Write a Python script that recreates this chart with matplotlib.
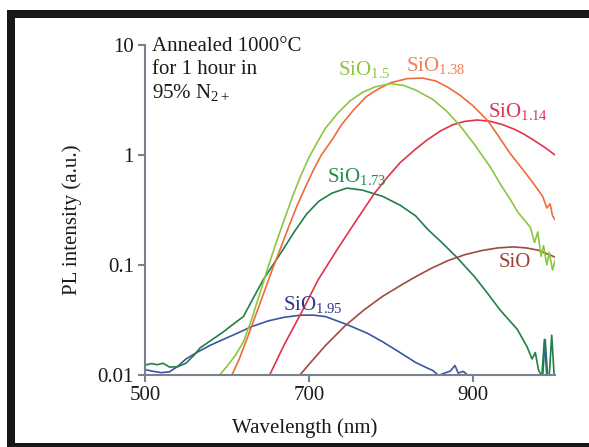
"""PL spectra of SiOx films annealed at 1000 C (log scale)."""
import matplotlib
matplotlib.use('Agg')
import matplotlib.pyplot as plt
from matplotlib.patches import Rectangle

plt.rcParams['font.family'] = ['Liberation Serif', 'DejaVu Serif']
plt.rcParams['mathtext.fontset'] = 'custom'
plt.rcParams['mathtext.rm'] = 'Liberation Serif'

W, H = 589, 447

# SiO1.95 (blue)
wl_195 = [500, 510, 520, 530, 540, 550, 565, 580, 595, 610, 630, 650, 670, 690, 705, 720,
          745, 771, 790, 811, 830, 845, 851, 858, 865, 872, 878, 882, 888, 895,
          985, 988, 991, 995]
pl_195 = [0.0112, 0.0108, 0.0105, 0.0107, 0.012, 0.014, 0.0163, 0.0187, 0.021, 0.0235,
          0.0275, 0.031, 0.0335, 0.035, 0.035, 0.034, 0.029, 0.024, 0.020, 0.016, 0.013,
          0.0115, 0.011, 0.0099, 0.0104, 0.0108, 0.0122, 0.0104, 0.0108, 0.0098,
          0.0098, 0.021, 0.0098, 0.0098]
# SiO1.73 (dark green)
wl_173 = [500, 508, 515, 522, 530, 540, 550, 560, 567, 580, 595, 605, 620, 632, 644, 656,
          668, 682, 697, 712, 728, 746, 765, 790, 811, 830, 845, 862, 880, 902, 918, 933,
          954, 966, 972, 976, 980, 984, 987, 990, 993, 996, 999]
pl_173 = [0.0123, 0.0127, 0.0124, 0.0128, 0.0118, 0.0119, 0.0128, 0.0152, 0.0176, 0.0205,
          0.0245, 0.028, 0.034, 0.05, 0.073, 0.1, 0.137, 0.2, 0.29, 0.38, 0.45, 0.5, 0.48,
          0.42, 0.35, 0.28, 0.21, 0.16, 0.118, 0.078, 0.055, 0.039, 0.026, 0.018, 0.014,
          0.016, 0.011, 0.0098, 0.021, 0.0098, 0.0098, 0.023, 0.0098]
# SiO1.5 (light green)
wl_15 = [591, 600, 610, 620, 630, 640, 650, 660, 670, 680, 690, 700, 710, 720, 735, 750,
         765, 780, 799, 815, 830, 851, 868, 884, 900, 920, 935, 945, 955, 962, 970, 975,
         979, 983, 986, 990, 993, 997, 1000]
pl_15 = [0.01, 0.012, 0.015, 0.02, 0.032, 0.055, 0.095, 0.16, 0.26, 0.42, 0.65, 0.95, 1.3,
         1.75, 2.4, 3.1, 3.7, 4.15, 4.45, 4.3, 3.9, 3.2, 2.5, 1.85, 1.3, 0.8, 0.52, 0.4,
         0.3, 0.26, 0.22, 0.16, 0.2, 0.12, 0.15, 0.1, 0.13, 0.09, 0.11]
# SiO1.38 (orange)
wl_138 = [606, 615, 625, 635, 645, 655, 665, 675, 685, 695, 705, 715, 728, 740, 755, 770,
          785, 800, 820, 839, 855, 870, 884, 900, 918, 932, 945, 960, 973, 985, 990, 994,
          997, 1000]
pl_138 = [0.01, 0.014, 0.022, 0.035, 0.056, 0.09, 0.14, 0.22, 0.34, 0.5, 0.72, 1.0, 1.37,
          1.9, 2.6, 3.4, 4.0, 4.55, 4.95, 5.0, 4.7, 4.1, 3.5, 2.8, 2.05, 1.45, 1.04, 0.75,
          0.56, 0.42, 0.33, 0.36, 0.28, 0.26]
# SiO1.14 (crimson)
wl_114 = [652, 670, 690, 711, 734, 757, 780, 795, 811, 828, 844, 860, 875, 890, 905, 920,
          935, 950, 962, 973, 987, 1000]
pl_114 = [0.01, 0.019, 0.036, 0.073, 0.137, 0.25, 0.45, 0.62, 0.85, 1.1, 1.37, 1.65, 1.88,
          2.02, 2.08, 2.03, 1.9, 1.72, 1.55, 1.38, 1.18, 1.0]
# SiO (brown)
wl_10 = [689, 700, 720, 744, 767, 790, 810, 827, 850, 870, 890, 910, 930, 949, 965, 980, 1000]
pl_10 = [0.01, 0.0125, 0.0185, 0.028, 0.039, 0.052, 0.064, 0.076, 0.094, 0.11, 0.124,
         0.135, 0.143, 0.146, 0.143, 0.136, 0.118]

series = [
    (wl_195, pl_195, '#3a55a4', '1.95', 283, 310, '#33358a'),
    (wl_173, pl_173, '#1f8048', '1.73', 327, 182, '#1f8f4e'),
    (wl_10, pl_10, '#a04a3e', '', 499, 267, '#a2403a'),
    (wl_114, pl_114, '#e0344a', '1.14', 488, 117, '#e0335a'),
    (wl_138, pl_138, '#f06a3c', '1.38', 406, 71, '#f07f56'),
    (wl_15, pl_15, '#8cc640', '1.5', 338, 75, '#8dc63f'),
]

fig = plt.figure(figsize=(W / 100, H / 100), dpi=100)
fig.patch.set_facecolor('white')
# black picture frame
fig.patches.append(Rectangle((7 / W, 0), 1, (H - 10) / H, transform=fig.transFigure,
                             facecolor='#161819', edgecolor='none', zorder=-2))
fig.patches.append(Rectangle((15 / W, 4 / H), 1, (H - 22) / H, transform=fig.transFigure,
                             facecolor='white', edgecolor='none', zorder=-1))

ax = fig.add_axes([145 / W, 72 / H, 410 / W, 330 / H])
ax.set_facecolor('none')
for wl, pl, col, sub, lx, ly, tcol in series:
    ax.plot(wl, pl, color=col, lw=1.2)
    lab = 'SiO' + (r'$_{\mathregular{%s}}$' % sub if sub else '')
    fig.text(lx / W, 1 - ly / H, lab, color=tcol, fontsize=15, ha='left', va='baseline')

ax.set_yscale('log')
ax.set_xlim(500, 1000)
ax.set_ylim(0.01, 10)
ax.set_xticks([500, 700, 900])
ax.set_yticks([0.01, 0.1, 1, 10])
ax.set_yticklabels(['0.01', '0.1', '1', '10'])
ax.minorticks_off()
for s in ['top', 'right']:
    ax.spines[s].set_visible(False)
for s in ['left', 'bottom']:
    ax.spines[s].set_color('#7a8290')
    ax.spines[s].set_linewidth(1.5)
ax.tick_params(colors='#7a8290', labelcolor='#1a1a1a', length=5, width=1.5,
               labelsize=15, pad=3)

fig.text(72 / W, 1 - 220 / H, 'PL intensity (a.u.)', rotation=90, fontsize=15,
         ha='center', va='center', color='#1a1a1a')
fig.text(305 / W, 1 - 428 / H, 'Wavelength (nm)', fontsize=15, ha='center', va='center',
         color='#1a1a1a')

ann = ['Annealed 1000°C', 'for 1 hour in', r'95% N$_{\mathregular{2+}}$']
for i, t in enumerate(ann):
    fig.text(152 / W, 1 - (51 + 23.5 * i) / H, t, fontsize=15, ha='left', va='baseline',
             color='#1a1a1a')

fig.savefig('out.png', dpi=100)
